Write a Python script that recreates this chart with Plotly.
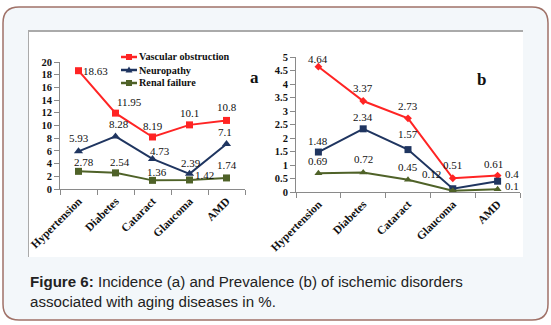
import plotly.graph_objects as go

categories = ["Hypertension", "Diabetes", "Cataract", "Glaucoma", "AMD"]
series_names = ["Vascular obstruction", "Neuropathy", "Renal failure"]

# Chart a: incidence
inc_vascular = [18.63, 11.95, 8.19, 10.1, 10.8]
inc_neuro = [5.93, 8.28, 4.73, 2.39, 7.1]
inc_renal = [2.78, 2.54, 1.36, 1.42, 1.74]

# Chart b: prevalence
prev_vascular = [4.64, 3.37, 2.73, 0.51, 0.61]
prev_neuro = [1.48, 2.34, 1.57, 0.12, 0.4]
prev_renal = [0.69, 0.72, 0.45, 0.05, 0.1]
prev_renal_labels = ["0.69", "0.72", "0.45", "", "0.1"]

RED = "#ff2424"
NAVY = "#1f3560"
GREEN = "#4f6228"
SERIF = "Liberation Serif"

W, H = 551, 325


def px(x):
    return x / W


def py(y):
    return 1 - y / H


fig = go.Figure()


def add_series(xa, ya, vals, color, symbol, size, name):
    fig.add_trace(go.Scatter(
        x=categories, y=vals, name=name, showlegend=False, mode="lines+markers",
        line=dict(color=color, width=2), marker=dict(symbol=symbol, size=size, color=color),
        xaxis=xa, yaxis=ya, cliponaxis=False))


add_series("x", "y", inc_vascular, RED, "square", 7, series_names[0])
add_series("x", "y", inc_neuro, NAVY, "triangle-up", 8, series_names[1])
add_series("x", "y", inc_renal, GREEN, "square", 7, series_names[2])
add_series("x2", "y2", prev_vascular, RED, "diamond", 6, series_names[0])
add_series("x2", "y2", prev_neuro, NAVY, "square", 7, series_names[1])
add_series("x2", "y2", prev_renal, GREEN, "triangle-up", 7, series_names[2])

# label offsets (pixels) per point: (dx, dy)
off_inc_vasc = [(17, 0), (14, 11), (0, 11), (0, 12), (0, 13)]
off_inc_neuro = [(0, 13), (3, 12), (7, 8), (1, 11), (-2, 12)]
off_inc_renal = [(5, 9), (4, 11), (4, 8), (15, 5), (0, 13)]
off_prev_vasc = [(0, 8), (0, 13), (0, 12), (0, 13), (-4, 12)]
off_prev_neuro = [(0, 11), (0, 12), (0, 16), (-21, 15), (14, 7)]
off_prev_renal = [(0, 12), (0, 14), (0, 13), (0, 0), (14, 3)]

lab_font = dict(family=SERIF, size=11, color="#111")
annotations = []


def add_labels(xa, ya, vals, labels, offs):
    for c, v, t, (dx, dy) in zip(categories, vals, labels, offs):
        if not t:
            continue
        annotations.append(dict(
            x=c, y=v, xref=xa, yref=ya, text=t, showarrow=False,
            xshift=dx, yshift=dy, xanchor="center", yanchor="middle",
            font=lab_font, borderpad=0))


add_labels("x", "y", inc_vascular, [str(v) for v in inc_vascular], off_inc_vasc)
add_labels("x", "y", inc_neuro, [str(v) for v in inc_neuro], off_inc_neuro)
add_labels("x", "y", inc_renal, [str(v) for v in inc_renal], off_inc_renal)
add_labels("x2", "y2", prev_vascular, [str(v) for v in prev_vascular], off_prev_vasc)
add_labels("x2", "y2", prev_neuro, [str(v) for v in prev_neuro], off_prev_neuro)
add_labels("x2", "y2", prev_renal, prev_renal_labels, off_prev_renal)

axis_common = dict(
    showgrid=False, zeroline=False, showline=True, linecolor="#8a8a8a", linewidth=1,
    ticks="outside", tickcolor="#8a8a8a", ticklen=5, tickwidth=1, automargin=False,
)
xfont = dict(family=SERIF, size=11.5, color="#111", weight="bold")
yfont = dict(family=SERIF, size=10.5, color="#111", weight="bold")

fig.update_layout(
    width=W, height=H, margin=dict(l=0, r=0, t=0, b=0, pad=0, autoexpand=False),
    paper_bgcolor="white", plot_bgcolor="rgba(0,0,0,0)", showlegend=False,
    xaxis=dict(domain=[px(60), px(245)], anchor="y", type="category",
               range=[-0.5, 4.5], tickson="boundaries", tickangle=-45,
               tickfont=xfont, **axis_common),
    yaxis=dict(domain=[py(189), py(62)], anchor="x", range=[0, 20], dtick=2,
               tickfont=yfont, **axis_common),
    xaxis2=dict(domain=[px(296), px(520)], anchor="y2", type="category",
                range=[-0.5, 4.5], tickson="boundaries", tickangle=-45,
                tickfont=xfont, **axis_common),
    yaxis2=dict(domain=[py(192), py(57)], anchor="x2", range=[0, 5], dtick=0.5,
                tickfont=yfont, **axis_common),
)


def rounded(x0, y0, x1, y1, r):
    X0, X1 = px(x0), px(x1)
    Y0, Y1 = py(y0), py(y1)
    rx, ry = r / W, r / H
    return (f"M {X0+rx},{Y0} L {X1-rx},{Y0} Q {X1},{Y0} {X1},{Y0-ry} "
            f"L {X1},{Y1+ry} Q {X1},{Y1} {X1-rx},{Y1} "
            f"L {X0+rx},{Y1} Q {X0},{Y1} {X0},{Y1+ry} "
            f"L {X0},{Y0-ry} Q {X0},{Y0} {X0+rx},{Y0} Z")


shapes = [
    dict(type="path", xref="paper", yref="paper", path=rounded(3, 7, 548, 320, 16),
         fillcolor="#f3f7fa", line=dict(color="#a07268", width=1.5), layer="below"),
    dict(type="rect", xref="paper", yref="paper", x0=px(28), x1=px(523), y0=py(257), y1=py(31),
         fillcolor="white", line=dict(width=0), layer="below"),
    dict(type="line", xref="paper", yref="paper", x0=px(28), x1=px(523), y0=py(31), y1=py(31),
         line=dict(color="#aaaaaa", width=2), layer="below"),
    dict(type="line", xref="paper", yref="paper", x0=px(28.5), x1=px(28.5), y0=py(31), y1=py(257),
         line=dict(color="#aaaaaa", width=1), layer="below"),
]

# custom legend for chart a
legend_colors = [RED, NAVY, GREEN]
legend_symbols = ["square", "triangle", "square"]
leg_x0, leg_x1, leg_y0, leg_dy = 121, 137, 57, 13
for i, (name, col, sym) in enumerate(zip(series_names, legend_colors, legend_symbols)):
    yy = leg_y0 + i * leg_dy
    shapes.append(dict(type="line", xref="paper", yref="paper",
                       x0=px(leg_x0), x1=px(leg_x1), y0=py(yy), y1=py(yy),
                       line=dict(color=col, width=2.5)))
    cx = (leg_x0 + leg_x1) / 2
    if sym == "square":
        shapes.append(dict(type="rect", xref="paper", yref="paper",
                           x0=px(cx - 3), x1=px(cx + 3), y0=py(yy + 3), y1=py(yy - 3),
                           fillcolor=col, line=dict(width=0)))
    else:
        shapes.append(dict(type="path", xref="paper", yref="paper",
                           path=f"M {px(cx-3.5)},{py(yy+2.5)} L {px(cx+3.5)},{py(yy+2.5)} "
                                f"L {px(cx)},{py(yy-3.5)} Z",
                           fillcolor=col, line=dict(width=0)))
    annotations.append(dict(text=name, x=px(leg_x1 + 1), y=py(yy), xref="paper", yref="paper",
                            xanchor="left", yanchor="middle", showarrow=False, borderpad=0,
                            font=dict(family=SERIF, size=10.2, color="#111", weight="bold")))

fig.update_layout(shapes=shapes)

annotations += [
    dict(text="a", x=px(255), y=py(66), xref="paper", yref="paper", showarrow=False,
         font=dict(family=SERIF, size=17, color="#111", weight="bold")),
    dict(text="b", x=px(488), y=py(68), xref="paper", yref="paper", showarrow=False,
         font=dict(family=SERIF, size=17, color="#111", weight="bold")),
    dict(text="<b>Figure 6:</b> Incidence (a) and Prevalence (b) of ischemic disorders<br>"
              "associated with aging diseases in %.",
         x=px(28), y=py(271), xref="paper", yref="paper", xanchor="left", yanchor="top",
         align="left", showarrow=False,
         font=dict(family="Liberation Sans", size=15.1, color="#222")),
]
fig.update_layout(annotations=annotations)

fig.write_html("out.html")
